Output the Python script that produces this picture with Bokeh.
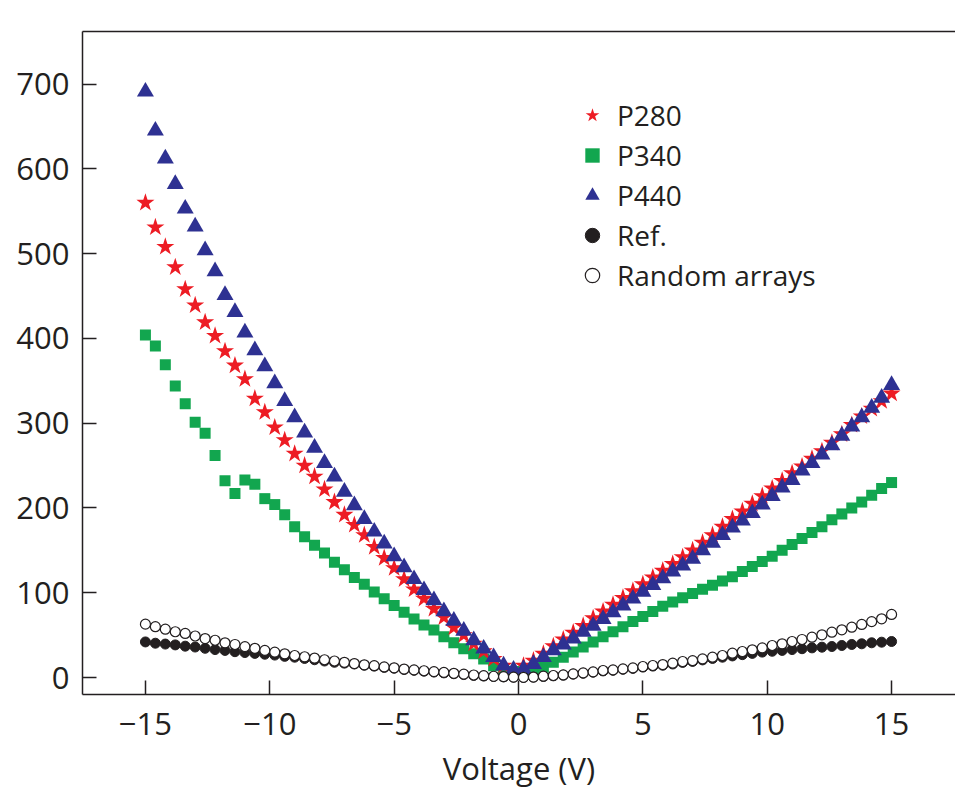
from bokeh.plotting import figure
from bokeh.models import Range1d, FixedTicker, LinearAxis, Legend, LegendItem
from bokeh.embed import file_html
from bokeh.resources import INLINE

voltage = [-15.0, -14.6, -14.2, -13.8, -13.4, -13.0, -12.6, -12.2, -11.8, -11.4,
           -11.0, -10.6, -10.2, -9.8, -9.4, -9.0, -8.6, -8.2, -7.8, -7.4,
           -7.0, -6.6, -6.2, -5.8, -5.4, -5.0, -4.6, -4.2, -3.8, -3.4,
           -3.0, -2.6, -2.2, -1.8, -1.4, -1.0, -0.6, -0.2,
           0.2, 0.6, 1.0, 1.4, 1.8, 2.2, 2.6, 3.0, 3.4, 3.8,
           4.2, 4.6, 5.0, 5.4, 5.8, 6.2, 6.6, 7.0, 7.4, 7.8,
           8.2, 8.6, 9.0, 9.4, 9.8, 10.2, 10.6, 11.0, 11.4, 11.8,
           12.2, 12.6, 13.0, 13.4, 13.8, 14.2, 14.6, 15.0]

p280 = [560, 531, 508, 484, 458, 439, 419, 403, 385, 368,
        352, 329, 313, 295, 280, 264, 250, 237, 222, 207,
        192, 180, 168, 154, 141, 129, 116, 104, 93, 81,
        71, 59, 50, 40, 31, 22, 14, 7,
        14, 20, 28, 37, 45, 53, 61, 70, 78, 86,
        94, 102, 110, 118, 126, 134, 142, 150, 159, 168,
        178, 187, 196, 205, 214, 223, 232, 241, 249, 258,
        267, 277, 287, 298, 308, 317, 326, 335]

p340 = [404, 391, 369, 344, 323, 301, 288, 262, 232, 217,
        233, 228, 211, 204, 192, 178, 166, 156, 147, 136,
        127, 118, 110, 101, 93, 85, 77, 69, 62, 56,
        48, 41, 34, 28, 22, 14, 10, 7,
        5, 9, 12, 18, 24, 30, 36, 42, 48, 54,
        60, 66, 72, 78, 84, 89, 94, 99, 104, 109,
        114, 119, 125, 131, 137, 143, 150, 157, 164, 171,
        178, 186, 193, 200, 207, 215, 223, 230]

p440 = [691, 645, 612, 582, 553, 532, 504, 479, 451, 431,
        407, 386, 367, 347, 326, 307, 289, 271, 253, 237,
        219, 203, 187, 172, 158, 143, 130, 116, 103, 91,
        78, 67, 55, 44, 34, 24, 14, 9,
        10, 16, 24, 32, 39, 46, 54, 61, 69, 77,
        85, 93, 101, 109, 117, 125, 132, 140, 150, 159,
        168, 177, 185, 194, 204, 214, 224, 233, 244, 253,
        263, 274, 285, 296, 307, 318, 330, 345]

ref = [42, 40.5, 39.5, 38.5, 37, 36, 34.5, 33, 32, 30.5,
       29.5, 28.5, 27.5, 26.5, 25, 24, 22.5, 21, 19.5, 18,
       17, 16, 14.5, 13.5, 12, 11, 9.5, 8.5, 7.5, 6.5,
       5.5, 4.5, 3.5, 2.5, 1.8, 1.2, 0.8, 0.4,
       0.2, 0.5, 1.3, 2, 2.8, 4, 5, 6.3, 7.8, 8.5,
       9.7, 10.8, 12.3, 13.5, 14.5, 16, 17.8, 19, 20.8, 22.5,
       24, 25.5, 27, 28.5, 30, 31, 32, 33, 34, 35,
       35.8, 36.6, 37.8, 39, 39.8, 41, 41.7, 42.5]

random_arrays = [63, 60, 57, 54, 52, 49, 46, 44, 41, 39,
                 36.5, 34.5, 32, 30, 28, 26, 24.5, 23, 21, 19.5,
                 18, 16.5, 15, 14, 12.5, 11.5, 10, 9, 8, 7,
                 6, 5, 4, 3, 2.2, 1.5, 1, 0.5,
                 0.3, 0.6, 1.6, 2.4, 3.1, 4.3, 5.5, 6.7, 8.3, 9,
                 10.2, 11.4, 13, 14.2, 15.3, 16.9, 18.9, 20, 22, 24,
                 26, 28.7, 30.7, 32.7, 35, 37.8, 39.8, 42.5, 44.9, 47.6,
                 50.4, 53.5, 56.3, 59.4, 62.6, 66, 69.3, 74.4]

x_ticks = [-15, -10, -5, 0, 5, 10, 15]
x_tick_labels = ["\u221215", "\u221210", "\u22125", "0", "5", "10", "15"]
y_ticks = [0, 100, 200, 300, 400, 500, 600, 700]
x_title = "Voltage (V)"

INK = "#231f20"
FONT = "Open Sans"
FS = "31px"

p = figure(width=955, height=791,
           x_range=Range1d(-17.53, 17.57), y_range=Range1d(-20, 762),
           output_backend="svg", toolbar_location=None,
           min_border_left=82, min_border_right=0,
           min_border_top=31, min_border_bottom=97)
p.xgrid.visible = False
p.ygrid.visible = False
p.outline_line_color = None
p.background_fill_color = "white"
p.border_fill_color = "white"

r340 = p.scatter(voltage, p340, marker="square", size=11, color="#12a64f", line_color=None)
r280 = p.scatter(voltage, p280, marker="star", size=19, color="#ed1c24", line_color=None)
r440 = p.scatter(voltage, p440, marker="triangle", size=17, color="#2e3192", line_color=None)
rref = p.scatter(voltage, ref, marker="circle", size=10, fill_color=INK, line_color=INK, line_width=1)
rrnd = p.scatter(voltage, random_arrays, marker="circle", size=10, fill_color="white", line_color=INK, line_width=1.2)

for ax in (p.xaxis[0], p.yaxis[0]):
    ax.axis_line_color = INK
    ax.axis_line_width = 1.5
    ax.major_tick_line_color = INK
    ax.major_tick_line_width = 1.5
    ax.major_tick_in = 14
    ax.major_tick_out = 0
    ax.minor_tick_line_color = None
    ax.major_label_text_font = FONT
    ax.major_label_text_font_size = FS
    ax.major_label_text_color = INK

p.xaxis[0].ticker = FixedTicker(ticks=x_ticks)
p.xaxis[0].major_label_overrides = {t: s for t, s in zip(x_ticks, x_tick_labels)}
p.xaxis[0].major_label_standoff = 18
p.xaxis[0].axis_label = x_title
p.xaxis[0].axis_label_text_font = FONT
p.xaxis[0].axis_label_text_font_size = FS
p.xaxis[0].axis_label_text_font_style = "normal"
p.xaxis[0].axis_label_text_color = INK
p.xaxis[0].axis_label_standoff = 9

p.yaxis[0].ticker = FixedTicker(ticks=y_ticks)
p.yaxis[0].major_label_standoff = 13

top = LinearAxis(ticker=FixedTicker(ticks=[]), major_tick_in=0, major_tick_out=0,
                 minor_tick_line_color=None, major_label_text_font_size="0px",
                 axis_line_color=INK, axis_line_width=1.5)
p.add_layout(top, "above")

legend = Legend(items=[LegendItem(label="P280", renderers=[r280]),
                       LegendItem(label="P340", renderers=[r340]),
                       LegendItem(label="P440", renderers=[r440]),
                       LegendItem(label="Ref.", renderers=[rref]),
                       LegendItem(label="Random arrays", renderers=[rrnd])],
                location=(492, 400), orientation="vertical",
                glyph_width=36, glyph_height=36, spacing=2, padding=0, margin=0,
                label_standoff=7, label_text_font=FONT, label_text_font_size="28px",
                label_text_color=INK, label_height=36,
                border_line_color=None, background_fill_alpha=0)
p.add_layout(legend, "center")

open("out.html", "w").write(file_html(p, INLINE))
